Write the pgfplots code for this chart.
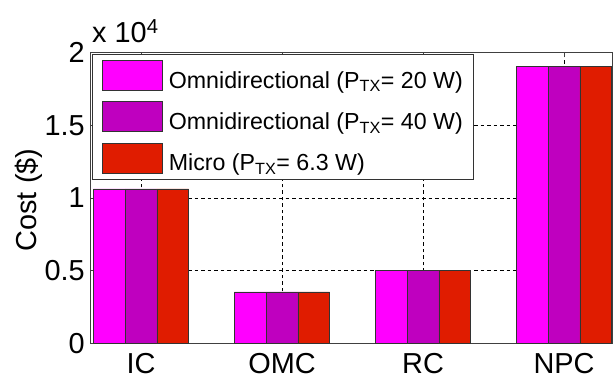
\documentclass[border=0pt]{standalone}
\usepackage{fontspec}
\setmainfont{Liberation Sans}
\usepackage{pgfplots}
\pgfplotsset{compat=1.18}
\definecolor{cmag}{RGB}{255,0,255}
\definecolor{cpur}{RGB}{191,0,191}
\definecolor{cred}{RGB}{224,28,0}
\pgfplotsset{ybar legend/.style={/pgfplots/legend image code/.code={\draw[##1,line width=0.8bp,draw=black!80] (0bp,-10.2bp) rectangle (60bp,19.8bp);}}}
\begin{document}
\begin{tikzpicture}
\useasboundingbox (-90.7bp,-38.5bp) rectangle (523.3bp,343.5bp);
\begin{axis}[
  at={(0,0)}, anchor=south west,
  scale only axis, width=522bp, height=291bp,
  clip mode=individual,
  xmin=-0.357, xmax=3.345, ymin=0, ymax=20000,
  xtick={0,1,2,3}, xticklabels={IC,OMC,RC,NPC},
  ytick={0,5000,10000,15000,20000}, yticklabels={0,0.5,1,1.5,2},
  scaled y ticks=false,
  ybar=0pt, bar width=0.225,
  grid=major,
  major grid style={dash pattern=on 3.5bp off 3bp, black, line width=0.7bp},
  axis line style={black!75, line width=0.8bp},
  tick style={black!75, line width=0.8bp}, major tick length=5bp,
  tick align=inside,
  tick label style={font=\fontsize{29}{29}\selectfont, inner sep=0pt},
  xticklabel style={yshift=-9.8bp},
  yticklabel style={xshift=-5.7bp},
  ylabel={Cost (\$)},
  ylabel style={font=\fontsize{29}{29}\selectfont, at={([xshift=-48bp,yshift=-2bp]rel axis cs:0,0.5)}, anchor=south, inner sep=0pt},
  legend style={at={(rel axis cs:0,1)}, anchor=north west, xshift=1.3bp, yshift=-1.5bp,
    draw=black!80, line width=0.8bp, fill=white, inner xsep=10bp, inner ysep=6bp,
    row sep=10.3bp, column sep=5.6bp, font=\fontsize{23.3}{23.3}\selectfont,
    nodes={inner sep=0pt}},
  legend cell align=left,
]
\addplot[fill=cmag, draw=black!80, line width=0.8bp] coordinates {(0,10620) (1,3540) (2,5020) (3,19020)};
\addplot[fill=cpur, draw=black!80, line width=0.8bp] coordinates {(0,10620) (1,3540) (2,5020) (3,19020)};
\addplot[fill=cred, draw=black!80, line width=0.8bp] coordinates {(0,10620) (1,3540) (2,5020) (3,19020)};
\legend{Omnidirectional (P\textsubscript{TX}= 20 W), Omnidirectional (P\textsubscript{TX}= 40 W), Micro (P\textsubscript{TX}= 6.3 W)}
\node[anchor=base west, inner sep=0pt, font=\fontsize{29}{29}\selectfont, xshift=1.3bp, yshift=10bp] at (rel axis cs:0,1) {x 10\textsuperscript{4}};
\end{axis}
\end{tikzpicture}
\end{document}
